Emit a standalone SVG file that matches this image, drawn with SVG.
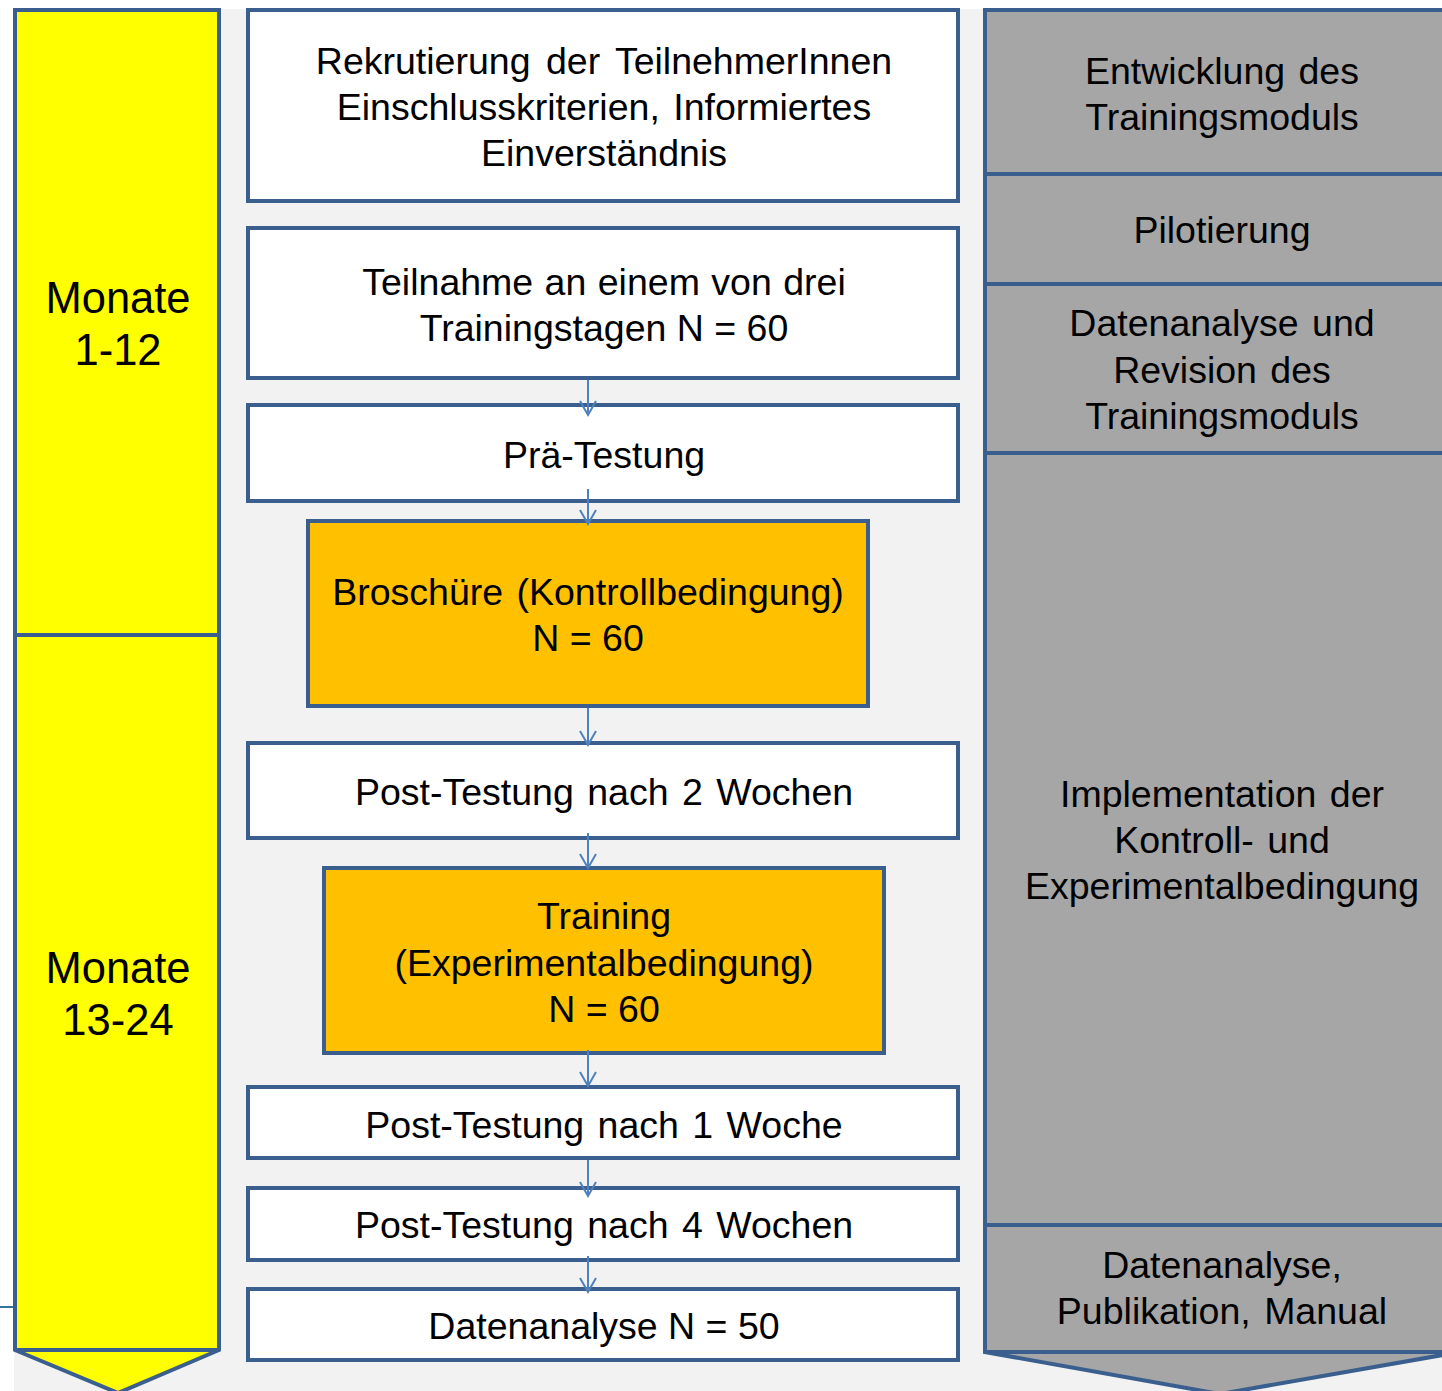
<svg xmlns="http://www.w3.org/2000/svg" width="1442" height="1391" viewBox="0 0 1442 1391">
<defs>
<style>
.b{stroke:#3a5f8f;stroke-width:4;stroke-linejoin:miter}
.w{fill:#ffffff}
.o{fill:#ffc000}
.y{fill:#ffff00}
.g{fill:#a6a6a6}
text{font-family:"Liberation Sans",Arial,sans-serif;font-size:37.5px;fill:#000;text-anchor:middle;word-spacing:3px}
.m{font-size:43.5px;word-spacing:0}
.n{word-spacing:0}
.c{stroke:#4f81bd;stroke-width:2;fill:none}
</style>
<marker id="ah" markerWidth="18" markerHeight="20" refX="15" refY="9" orient="auto" markerUnits="userSpaceOnUse">
<path d="M1,1 L15,9 L1,17" fill="none" stroke="#4f81bd" stroke-width="2"/>
</marker>
</defs>
<rect x="0" y="0" width="1442" height="1391" fill="#ffffff"/>
<rect x="14" y="9" width="1428" height="1382" fill="#f2f2f2"/>
<line x1="0" y1="1307" x2="14" y2="1307" stroke="#31749b" stroke-width="2"/>

<g id="timeline">
<path class="b y" d="M15,10 H219 V1350 L118,1393 L15,1350 Z"/>
<line class="b" x1="15" y1="635" x2="219" y2="635"/>
<line class="b" x1="15" y1="1350" x2="219" y2="1350"/>
<text class="m" x="118" y="313">Monate</text>
<text class="m" x="118" y="365">1-12</text>
<text class="m" x="118" y="983">Monate</text>
<text class="m" x="118" y="1035">13-24</text>
</g>

<g id="phases">
<path class="b g" d="M985,10 H1460 V1352 L1220,1394 L985,1352 Z"/>
<line class="b" x1="985" y1="174" x2="1442" y2="174"/>
<line class="b" x1="985" y1="284" x2="1442" y2="284"/>
<line class="b" x1="985" y1="453" x2="1442" y2="453"/>
<line class="b" x1="985" y1="1225" x2="1442" y2="1225"/>
<line class="b" x1="985" y1="1352" x2="1442" y2="1352"/>
<text x="1222" y="84">Entwicklung des</text>
<text x="1222" y="130">Trainingsmoduls</text>
<text x="1222" y="243">Pilotierung</text>
<text x="1222" y="336">Datenanalyse und</text>
<text x="1222" y="383">Revision des</text>
<text x="1222" y="429">Trainingsmoduls</text>
<text x="1222" y="807">Implementation der</text>
<text x="1222" y="853">Kontroll- und</text>
<text x="1222" y="899">Experimentalbedingung</text>
<text x="1222" y="1278">Datenanalyse,</text>
<text x="1222" y="1324">Publikation, Manual</text>
</g>

<g id="n1"><rect class="b w" x="248" y="10" width="710" height="191"/>
<text x="604" y="74" style="word-spacing:5px">Rekrutierung der TeilnehmerInnen</text>
<text x="604" y="120">Einschlusskriterien, Informiertes</text>
<text x="604" y="166">Einverständnis</text></g>
<g id="n2"><rect class="b w" x="248" y="228" width="710" height="150"/>
<text x="604" y="295" style="word-spacing:1px">Teilnahme an einem von drei</text>
<text x="604" y="341" class="n">Trainingstagen N = 60</text></g>
<g id="n3"><rect class="b w" x="248" y="405" width="710" height="96"/>
<text x="604" y="468">Prä-Testung</text></g>
<g id="n4"><rect class="b o" x="308" y="521" width="560" height="185"/>
<text x="588" y="605">Broschüre (Kontrollbedingung)</text>
<text x="588" y="651" class="n">N = 60</text></g>
<g id="n5"><rect class="b w" x="248" y="743" width="710" height="95"/>
<text x="604" y="805">Post-Testung nach 2 Wochen</text></g>
<g id="n6"><rect class="b o" x="324" y="868" width="560" height="185"/>
<text x="604" y="929">Training</text>
<text x="604" y="976">(Experimentalbedingung)</text>
<text x="604" y="1022" class="n">N = 60</text></g>
<g id="n7"><rect class="b w" x="248" y="1087" width="710" height="71"/>
<text x="604" y="1138">Post-Testung nach 1 Woche</text></g>
<g id="n8"><rect class="b w" x="248" y="1188" width="710" height="72"/>
<text x="604" y="1238">Post-Testung nach 4 Wochen</text></g>
<g id="n9"><rect class="b w" x="248" y="1289" width="710" height="71"/>
<text x="604" y="1339" class="n">Datenanalyse N = 50</text></g>

<g id="connectors">
<line class="c" x1="588" y1="380" x2="588" y2="415" marker-end="url(#ah)"/>
<line class="c" x1="588" y1="489" x2="588" y2="524" marker-end="url(#ah)"/>
<line class="c" x1="588" y1="708" x2="588" y2="745" marker-end="url(#ah)"/>
<line class="c" x1="588" y1="833" x2="588" y2="868" marker-end="url(#ah)"/>
<line class="c" x1="588" y1="1050" x2="588" y2="1086" marker-end="url(#ah)"/>
<line class="c" x1="588" y1="1160" x2="588" y2="1196" marker-end="url(#ah)"/>
<line class="c" x1="588" y1="1256" x2="588" y2="1292" marker-end="url(#ah)"/>
</g>
</svg>
